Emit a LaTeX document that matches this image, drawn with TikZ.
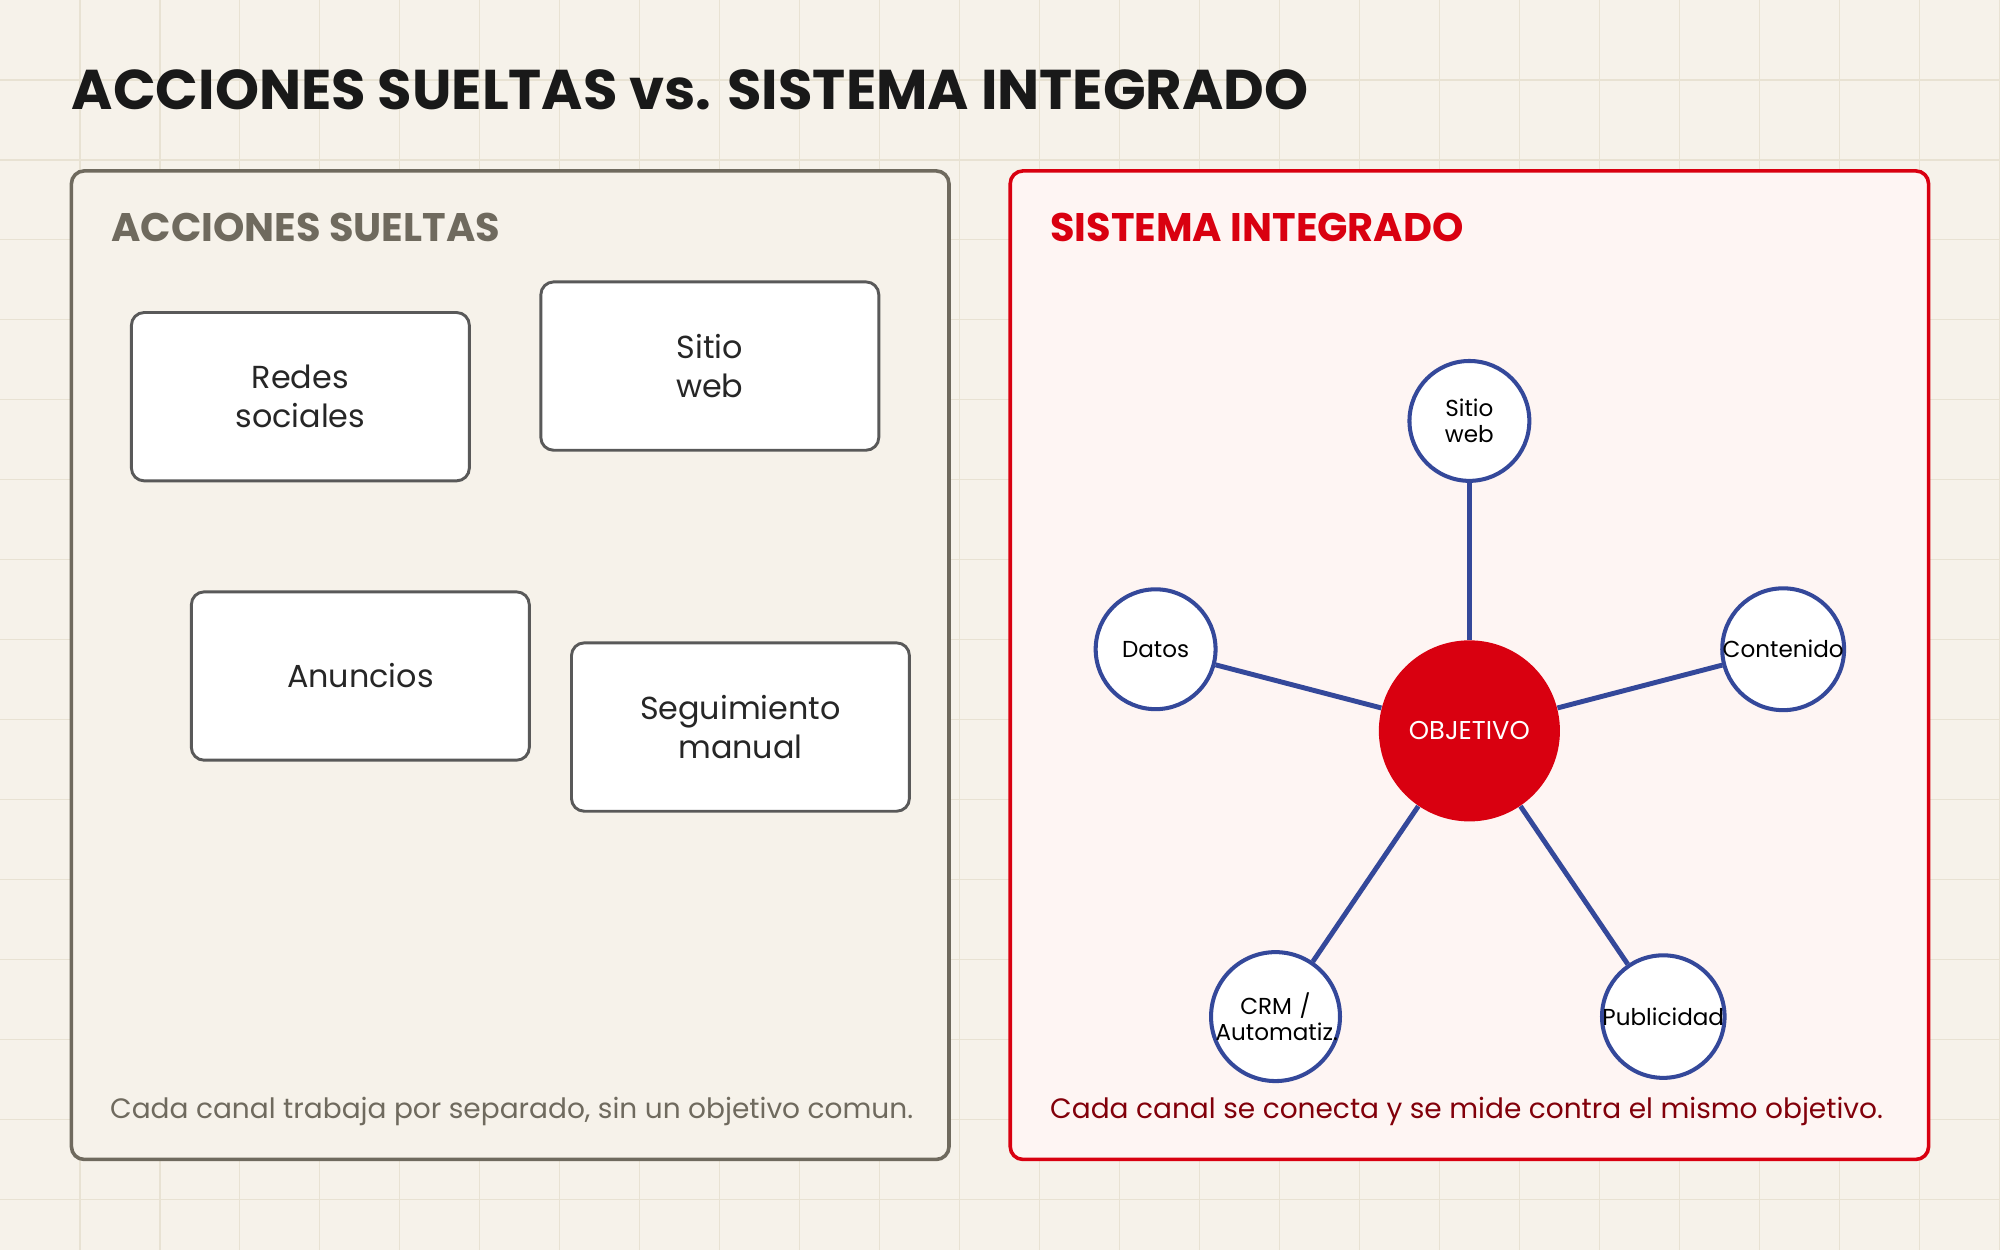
\documentclass[tikz,border=0pt]{standalone}
\usepackage{fontspec}
\setmainfont{Poppins}
\begin{document}
\begin{tikzpicture}[x=0.02cm,y=-0.02cm,
  panel/.style={rounded corners=0.2cm,line width=1.6pt},
  box/.style={draw=gray!70!black,fill=white,rounded corners=0.2cm,line width=1.3pt,minimum width=5.3cm,minimum height=2.64cm,align=center,font=\fontsize{14.2}{17.5}\selectfont,text=black!85},
  sat/.style={circle,draw=blue1,fill=white,line width=1.8pt,minimum size=1.88cm,inner sep=0pt,align=center,font=\fontsize{10.3}{11.5}\selectfont},
  link/.style={draw=blue1,line width=2.2pt}]
\definecolor{bg}{HTML}{F6F2EA}
\definecolor{gridc}{HTML}{E8E2D3}
\definecolor{gr}{HTML}{6F6A5E}
\definecolor{red1}{HTML}{D90010}
\definecolor{blue1}{HTML}{34489A}
\definecolor{pink}{HTML}{FEF5F3}
\fill[bg] (0,0) rectangle (1568,980);
\useasboundingbox (0,0) rectangle (1568,980);
\foreach \i in {1,...,25} {\draw[gridc,line width=0.5pt] (\i*62.7,0) -- (\i*62.7,980);}
\foreach \i in {1,...,15} {\draw[gridc,line width=0.5pt] (0,\i*62.7) -- (1568,\i*62.7);}
\node[anchor=base west,font=\fontsize{25}{30}\selectfont\bfseries,text=black!90,inner sep=0] (title) at (56,86) {ACCIONES SUELTAS vs. SISTEMA INTEGRADO};
\draw[panel,draw=gr,fill=bg] (56,134) rectangle (744,909);
\draw[panel,draw=red1,fill=pink] (792,134) rectangle (1512,909);
\node[anchor=base west,font=\fontsize{17.8}{21}\selectfont\bfseries,text=gr,inner sep=0] (h1) at (87,189) {ACCIONES SUELTAS};
\node[anchor=base west,font=\fontsize{17.8}{21}\selectfont\bfseries,text=red1,inner sep=0] (h2) at (823,189) {SISTEMA INTEGRADO};
\node[box] (redes) at (235.5,311) {Redes\\sociales};
\node[box] (sitio) at (556.5,287) {Sitio\\web};
\node[box] (anun) at (282.5,530) {Anuncios};
\node[box] (seg) at (580.5,570) {Seguimiento\\manual};
\node[anchor=base west,font=\fontsize{12.5}{15}\selectfont,text=gr,inner sep=0] (f1) at (86,877) {Cada canal trabaja por separado, sin un objetivo comun.};
\node[anchor=base west,font=\fontsize{12.5}{15}\selectfont,text=red1!60!black,inner sep=0] (f2) at (823,877) {Cada canal se conecta y se mide contra el mismo objetivo.};
\node[circle,fill=red1,minimum size=2.84cm,text=white,font=\fontsize{11.5}{14}\selectfont] (obj) at (1152,573) {OBJETIVO};
\node[sat] (s1) at (1152,330) {Sitio\\web};
\node[sat] (s2) at (906,509) {Datos};
\node[sat] (s3) at (1398,509) {Contenido};
\node[sat,minimum size=1.9cm,text width=1.88cm] (s4) at (1000,797) {CRM /\\Automatiz.};
\node[sat] (s5) at (1304,797) {Publicidad};
\foreach \s in {s1,s2,s3,s4,s5} {\draw[link] (obj) -- (\s);}
\end{tikzpicture}
\end{document}
